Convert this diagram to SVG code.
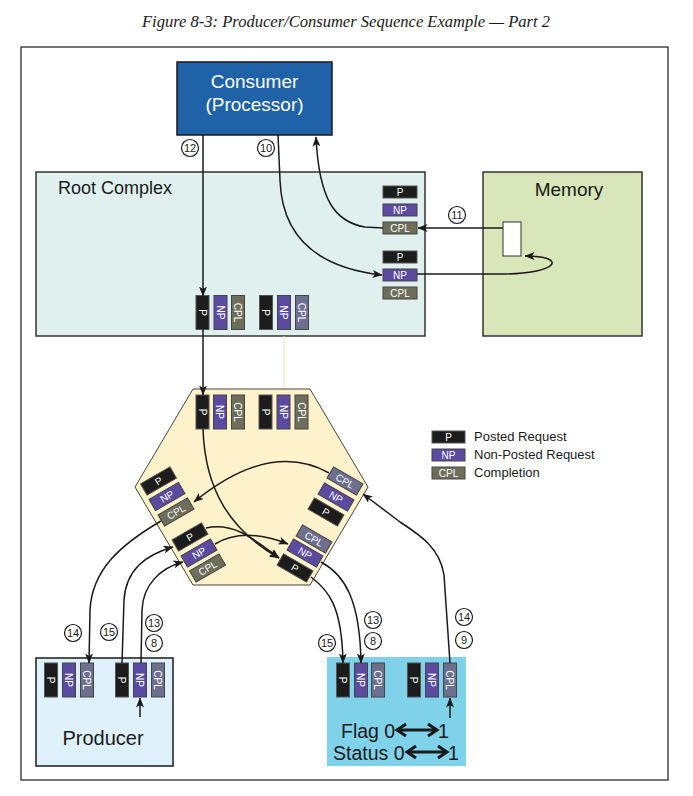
<svg xmlns="http://www.w3.org/2000/svg" width="693" height="796" viewBox="0 0 693 796">
<defs>
<marker id="ah" markerWidth="10" markerHeight="8" refX="9.5" refY="4" orient="auto" markerUnits="userSpaceOnUse"><path d="M0,0 L10,4 L0,8 L2.5,4 Z" fill="#1a1a1a"/></marker>
<style>
.sans{font-family:"Liberation Sans",Arial,sans-serif;}
.tile text{font-family:"Liberation Sans",Arial,sans-serif;font-size:10px;fill:#fff;text-anchor:middle;}
.p{fill:#1c1c1c;stroke:#555;stroke-width:1}
.np{fill:#5b4ba0;stroke:#444;stroke-width:1}
.cpl{fill:#6e6e5c;stroke:#444;stroke-width:1}
.cplb{fill:#6c6f8e;stroke:#444;stroke-width:1}
.wire{fill:none;stroke:#1a1a1a;stroke-width:1.5}
.arr{marker-end:url(#ah)}
.num circle{fill:#fff;stroke:#1a1a1a;stroke-width:1.2}
.num text{font-family:"Liberation Sans",Arial,sans-serif;font-size:11px;fill:#1a1a1a;text-anchor:middle}
.dbl{fill:none;stroke:#1a1a1a;stroke-width:3}
</style>
</defs>
<rect width="693" height="796" fill="#fff"/>
<text x="346" y="27" text-anchor="middle" font-family="'Liberation Serif','Times New Roman',serif" font-style="italic" font-size="16" textLength="408" lengthAdjust="spacingAndGlyphs" fill="#1a1a1a">Figure 8-3: Producer/Consumer Sequence Example — Part 2</text>
<rect x="21" y="47" width="647" height="733" fill="none" stroke="#1a1a1a" stroke-width="1.2"/>

<g id="consumer">
<rect x="177" y="62" width="155" height="73" fill="#1f62a7" stroke="#1a1a1a" stroke-width="1.5"/>
<text class="sans" x="254.5" y="88" text-anchor="middle" font-size="19" fill="#fff">Consumer</text>
<text class="sans" x="254.5" y="111" text-anchor="middle" font-size="19" fill="#fff">(Processor)</text>
</g>

<g id="root-complex">
<rect x="36" y="172" width="389" height="164" fill="#e0f0ef" stroke="#333" stroke-width="1.5"/>
<text class="sans" x="58" y="194" font-size="18" fill="#1a1a1a">Root Complex</text>
<g class="tile">
<g transform="translate(400,192)"><rect class="p" x="-17" y="-6" width="34" height="12"/><text y="3.6">P</text></g>
<g transform="translate(400,210)"><rect class="np" x="-17" y="-6" width="34" height="12"/><text y="3.6">NP</text></g>
<g transform="translate(400,228)"><rect class="cpl" x="-17" y="-6" width="34" height="12"/><text y="3.6">CPL</text></g>
<g transform="translate(400,257)"><rect class="p" x="-17" y="-6" width="34" height="12"/><text y="3.6">P</text></g>
<g transform="translate(400,275)"><rect class="np" x="-17" y="-6" width="34" height="12"/><text y="3.6">NP</text></g>
<g transform="translate(400,293)"><rect class="cpl" x="-17" y="-6" width="34" height="12"/><text y="3.6">CPL</text></g>
<g transform="translate(202.5,312.5) rotate(90)"><rect class="p" x="-17" y="-6.5" width="34" height="13"/><text y="3.6">P</text></g>
<g transform="translate(220.5,312.5) rotate(90)"><rect class="np" x="-17" y="-6.5" width="34" height="13"/><text y="3.6">NP</text></g>
<g transform="translate(238,312.5) rotate(90)"><rect class="cpl" x="-17" y="-6.5" width="34" height="13"/><text y="3.6">CPL</text></g>
<g transform="translate(266,312.5) rotate(90)"><rect class="p" x="-17" y="-6.5" width="34" height="13"/><text y="3.6">P</text></g>
<g transform="translate(284,312.5) rotate(90)"><rect class="np" x="-17" y="-6.5" width="34" height="13"/><text y="3.6">NP</text></g>
<g transform="translate(302,312.5) rotate(90)"><rect class="cplb" x="-17" y="-6.5" width="34" height="13"/><text y="3.6">CPL</text></g>
</g>
</g>

<g id="memory">
<rect x="483" y="172" width="159" height="164" fill="#d9e6b9" stroke="#333" stroke-width="1.5"/>
<text class="sans" x="569" y="196" text-anchor="middle" font-size="19" fill="#1a1a1a">Memory</text>
<rect x="503" y="222" width="18" height="34" fill="#fff" stroke="#333" stroke-width="1"/>
</g>

<line x1="284" y1="336" x2="284" y2="389" stroke="#f3dfbb" stroke-width="1"/>

<g id="switch">
<polygon points="193,389 310,389 368,487 310,585 193,585 135,487" fill="#fdf2c9" stroke="#444" stroke-width="1"/>
<g class="tile">
<g transform="translate(202.5,412) rotate(90)"><rect class="p" x="-17" y="-6.5" width="34" height="13"/><text y="3.6">P</text></g>
<g transform="translate(220,412) rotate(90)"><rect class="np" x="-17" y="-6.5" width="34" height="13"/><text y="3.6">NP</text></g>
<g transform="translate(238,412) rotate(90)"><rect class="cpl" x="-17" y="-6.5" width="34" height="13"/><text y="3.6">CPL</text></g>
<g transform="translate(265.5,412) rotate(90)"><rect class="p" x="-17" y="-6.5" width="34" height="13"/><text y="3.6">P</text></g>
<g transform="translate(283.5,412) rotate(90)"><rect class="np" x="-17" y="-6.5" width="34" height="13"/><text y="3.6">NP</text></g>
<g transform="translate(301.5,412) rotate(90)"><rect class="cpl" x="-17" y="-6.5" width="34" height="13"/><text y="3.6">CPL</text></g>
<g transform="translate(158.5,481) rotate(-30)"><rect class="p" x="-17" y="-6.5" width="34" height="13"/><text y="3.6">P</text></g>
<g transform="translate(167,496.5) rotate(-30)"><rect class="np" x="-17" y="-6.5" width="34" height="13"/><text y="3.6">NP</text></g>
<g transform="translate(176,512) rotate(-30)"><rect class="cpl" x="-17" y="-6.5" width="34" height="13"/><text y="3.6">CPL</text></g>
<g transform="translate(190,537) rotate(-30)"><rect class="p" x="-17" y="-6.5" width="34" height="13"/><text y="3.6">P</text></g>
<g transform="translate(199,553) rotate(-30)"><rect class="np" x="-17" y="-6.5" width="34" height="13"/><text y="3.6">NP</text></g>
<g transform="translate(207.5,568) rotate(-30)"><rect class="cpl" x="-17" y="-6.5" width="34" height="13"/><text y="3.6">CPL</text></g>
<g transform="translate(345,481) rotate(30)"><rect class="cplb" x="-17" y="-6.5" width="34" height="13"/><text y="3.6">CPL</text></g>
<g transform="translate(336,497) rotate(30)"><rect class="np" x="-17" y="-6.5" width="34" height="13"/><text y="3.6">NP</text></g>
<g transform="translate(326,512) rotate(30)"><rect class="p" x="-17" y="-6.5" width="34" height="13"/><text y="3.6">P</text></g>
<g transform="translate(314,539) rotate(30)"><rect class="cplb" x="-17" y="-6.5" width="34" height="13"/><text y="3.6">CPL</text></g>
<g transform="translate(305,553) rotate(30)"><rect class="np" x="-17" y="-6.5" width="34" height="13"/><text y="3.6">NP</text></g>
<g transform="translate(295,568) rotate(30)"><rect class="p" x="-17" y="-6.5" width="34" height="13"/><text y="3.6">P</text></g>
</g>
</g>

<g id="legend">
<g class="tile">
<g transform="translate(448.5,437)"><rect class="p" x="-16.5" y="-6" width="33" height="12"/><text y="3.6">P</text></g>
<g transform="translate(448.5,455)"><rect class="np" x="-16.5" y="-6" width="33" height="12"/><text y="3.6">NP</text></g>
<g transform="translate(448.5,473)"><rect class="cpl" x="-16.5" y="-6" width="33" height="12"/><text y="3.6">CPL</text></g>
</g>
<text class="sans" x="474" y="441" font-size="13" fill="#1a1a1a">Posted Request</text>
<text class="sans" x="474" y="459" font-size="13" fill="#1a1a1a">Non-Posted Request</text>
<text class="sans" x="474" y="477" font-size="13" fill="#1a1a1a">Completion</text>
</g>

<g id="producer">
<rect x="36" y="658" width="137" height="108" fill="#def1fa" stroke="#1a1a1a" stroke-width="1.5"/>
<text class="sans" x="103" y="745" text-anchor="middle" font-size="20" fill="#1a1a1a">Producer</text>
<g class="tile">
<g transform="translate(51,680) rotate(90)"><rect class="p" x="-17" y="-6.5" width="34" height="13"/><text y="3.6">P</text></g>
<g transform="translate(69,680) rotate(90)"><rect class="np" x="-17" y="-6.5" width="34" height="13"/><text y="3.6">NP</text></g>
<g transform="translate(87,680) rotate(90)"><rect class="cplb" x="-17" y="-6.5" width="34" height="13"/><text y="3.6">CPL</text></g>
<g transform="translate(122,680) rotate(90)"><rect class="p" x="-17" y="-6.5" width="34" height="13"/><text y="3.6">P</text></g>
<g transform="translate(140,680) rotate(90)"><rect class="np" x="-17" y="-6.5" width="34" height="13"/><text y="3.6">NP</text></g>
<g transform="translate(158,680) rotate(90)"><rect class="cplb" x="-17" y="-6.5" width="34" height="13"/><text y="3.6">CPL</text></g>
</g>
</g>

<g id="flag-device">
<rect x="327" y="657" width="139" height="109" fill="#80d2ea"/>
<g class="tile">
<g transform="translate(343,680) rotate(90)"><rect class="p" x="-17" y="-6.5" width="34" height="13"/><text y="3.6">P</text></g>
<g transform="translate(361,680) rotate(90)"><rect class="np" x="-17" y="-6.5" width="34" height="13"/><text y="3.6">NP</text></g>
<g transform="translate(378,680) rotate(90)"><rect class="cplb" x="-17" y="-6.5" width="34" height="13"/><text y="3.6">CPL</text></g>
<g transform="translate(414,680) rotate(90)"><rect class="p" x="-17" y="-6.5" width="34" height="13"/><text y="3.6">P</text></g>
<g transform="translate(432,680) rotate(90)"><rect class="np" x="-17" y="-6.5" width="34" height="13"/><text y="3.6">NP</text></g>
<g transform="translate(450,680) rotate(90)"><rect class="cplb" x="-17" y="-6.5" width="34" height="13"/><text y="3.6">CPL</text></g>
</g>
<text class="sans" x="341" y="737.5" font-size="19.5" fill="#1a1a1a">Flag 0</text>
<path class="dbl" d="M397 730 L437 730 M406 724 L397 730 L406 736 M428 724 L437 730 L428 736"/>
<text class="sans" x="438" y="737.5" font-size="19.5" fill="#1a1a1a">1</text>
<text class="sans" x="333" y="759.5" font-size="19.5" fill="#1a1a1a">Status 0</text>
<path class="dbl" d="M407 752 L447 752 M416 746 L407 752 L416 758 M438 746 L447 752 L438 758"/>
<text class="sans" x="448" y="759.5" font-size="19.5" fill="#1a1a1a">1</text>
</g>

<g id="connectors">
<path class="wire arr" d="M203 135 L203 296"/>
<path class="wire arr" d="M203 329 L203 395"/>
<path class="wire arr" d="M278 135 L280 180 C282 240 320 268 382 275"/>
<path class="wire arr" d="M383 228 L365 227 C335 222 319 200 316 137"/>
<path class="wire arr" d="M503 228 L418 228"/>
<path class="wire arr" d="M417 274 L500 274 C560 274 568 256 525 256"/>
<path class="wire arr" d="M203 429 C205 490 230 530 279 558"/>
<path class="wire arr" d="M206 528 C235 522 255 540 279 558"/>
<path class="wire arr" d="M215 544 C235 532 260 533 288 544"/>
<path class="wire arr" d="M450 663 L444 575 C440 548 420 535 400 522 L363 494"/>
<path class="wire arr" d="M329 473 Q270 440 194 502"/>
<path class="wire arr" d="M161 521 C120 545 92 570 90 610 L89 663"/>
<path class="wire arr" d="M122 663 L124 600 C126 570 145 555 173 547"/>
<path class="wire arr" d="M141 663 L142 610 C143 585 160 568 183 562"/>
<path class="wire arr" d="M311 577 C328 590 342 605 343 663"/>
<path class="wire arr" d="M321 562 C345 575 360 600 361 663"/>
<path class="wire arr" d="M140 717 L140 698"/>
<path class="wire arr" d="M450 718 L450 698"/>
</g>

<g id="step-numbers">
<g class="num"><circle cx="190" cy="148" r="8.5"/><text x="190" y="152">12</text></g>
<g class="num"><circle cx="266" cy="148" r="8.5"/><text x="266" y="152">10</text></g>
<g class="num"><circle cx="457" cy="215" r="8.5"/><text x="457" y="219">11</text></g>
<g class="num"><circle cx="73" cy="633" r="8.5"/><text x="73" y="637">14</text></g>
<g class="num"><circle cx="109" cy="632" r="8.5"/><text x="109" y="636">15</text></g>
<g class="num"><circle cx="154" cy="623" r="8.5"/><text x="154" y="627">13</text></g>
<g class="num"><circle cx="154" cy="643" r="8.5"/><text x="154" y="647">8</text></g>
<g class="num"><circle cx="327" cy="643" r="8.5"/><text x="327" y="647">15</text></g>
<g class="num"><circle cx="373" cy="620" r="8.5"/><text x="373" y="624">13</text></g>
<g class="num"><circle cx="373" cy="641" r="8.5"/><text x="373" y="645">8</text></g>
<g class="num"><circle cx="464" cy="617" r="8.5"/><text x="464" y="621">14</text></g>
<g class="num"><circle cx="464" cy="640" r="8.5"/><text x="464" y="644">9</text></g>
</g>
</svg>
